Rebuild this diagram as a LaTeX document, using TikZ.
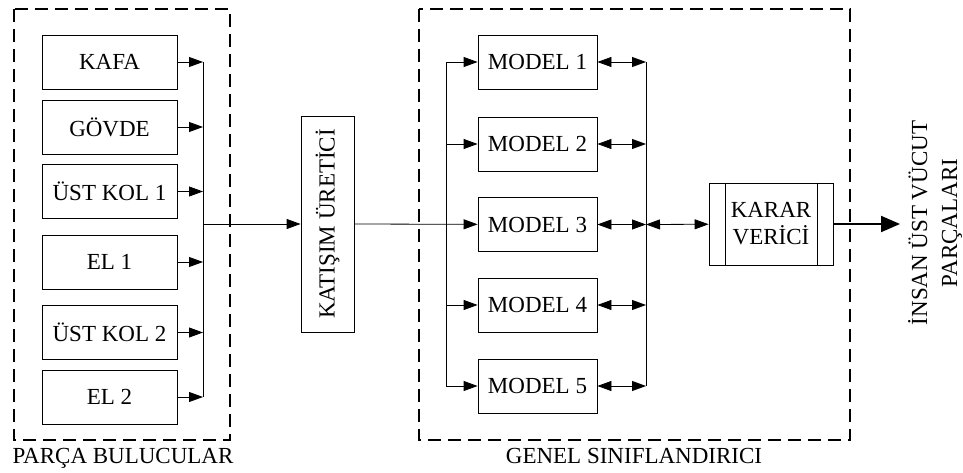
\documentclass[tikz,border=0pt]{standalone}
\usepackage{fontspec}
\setmainfont{Liberation Serif}
\usetikzlibrary{arrows.meta}

\tikzset{
  blok/.style={draw,line width=0.8pt,inner sep=0pt,minimum height=54pt,
    font=\fontsize{23}{27}\selectfont,align=center},
  grup/.style={line width=1.7pt,dash pattern=on 13pt off 7pt},
  ok/.style={line width=0.8pt,-{Triangle[length=14pt,width=10pt]}},
  ciftok/.style={line width=0.8pt,{Triangle[length=14pt,width=10pt]}-{Triangle[length=14pt,width=10pt]}},
  hat/.style={line width=0.8pt},
  etiket/.style={font=\fontsize{23}{27}\selectfont,anchor=base}
}

\begin{document}
\begin{tikzpicture}[x=1pt,y=-1pt]

      \useasboundingbox (0,0) rectangle (963,473);

      % gruplar
      \draw[grup] (14,9) rectangle (230,440);
      \draw[grup] (419,9) rectangle (850,440);
      \node[etiket] (parca) at (123,463) {PARÇA BULUCULAR};
      \node[etiket] (genel) at (634,463) {GENEL SINIFLANDIRICI};

      \begin{scope}[every node/.style={blok,minimum width=135pt}]
        \node (kafa)    at (109.5,62)  {KAFA};
        \node (govde)   at (109.5,127) {GÖVDE};
        \node (ustkol1) at (109.5,191.5) {ÜST KOL 1};
        \node (el1)     at (109.5,262) {EL 1};
        \node (ustkol2) at (109.5,332.5) {ÜST KOL 2};
        \node (el2)     at (109.5,397) {EL 2};
      \end{scope}

      \node[blok,rotate=90,minimum width=216pt,minimum height=53pt] (katisim) at (327.5,224) {KATIŞIM ÜRETİCİ};

      \begin{scope}[every node/.style={blok,minimum width=119pt}]
        \node (model1) at (537.5,62)  {MODEL 1};
        \node (model2) at (537.5,144) {MODEL 2};
        \node (model3) at (537.5,224.5) {MODEL 3};
        \node (model4) at (537.5,305) {MODEL 4};
        \node (model5) at (537.5,386) {MODEL 5};
      \end{scope}

      \node[blok,minimum width=124pt,minimum height=82pt] (karar) at (771,224) {KARAR\\VERİCİ};
      \draw[hat] ([xshift=17pt]karar.north west) -- ([xshift=17pt]karar.south west);
      \draw[hat] ([xshift=-16pt]karar.north east) -- ([xshift=-16pt]karar.south east);

      \node[font=\fontsize{23}{30}\selectfont,rotate=90,align=center] (cikis) at (935,223) {İNSAN ÜST VÜCUT\\PARÇALARI};

      % baglanti noktalari
      \coordinate (b1) at (203,62);
      \coordinate (b2) at (203,127);
      \coordinate (b3) at (203,191.5);
      \coordinate (b4) at (203,262);
      \coordinate (b5) at (203,332.5);
      \coordinate (b6) at (203,397);
      \coordinate (b0) at (203,224);
      \coordinate (s1) at (446,62);
      \coordinate (s2) at (446,144);
      \coordinate (s4) at (446,305);
      \coordinate (s5) at (446,386);
      \coordinate (r1) at (646,62);
      \coordinate (r2) at (646,144);
      \coordinate (r3) at (646,224.5);
      \coordinate (r4) at (646,305);
      \coordinate (r5) at (646,386);
      \coordinate (son) at (900,224);

      \draw[ok] (kafa) -- (b1);
      \draw[ok] (govde) -- (b2);
      \draw[ok] (ustkol1) -- (b3);
      \draw[ok] (el1) -- (b4);
      \draw[ok] (ustkol2) -- (b5);
      \draw[ok] (el2) -- (b6);
      \draw[hat] (b1) -- (b6);
      \draw[ok] (b0) -- (katisim.north);

      \draw[ok] (katisim.south) -- (model3);
      \draw[hat] (s1) -- (s5);
      \draw[ok] (s1) -- (model1);
      \draw[ok] (s2) -- (model2);
      \draw[ok] (s4) -- (model4);
      \draw[ok] (s5) -- (model5);

      \draw[ciftok] (model1) -- (r1);
      \draw[ciftok] (model2) -- (r2);
      \draw[ciftok] (model3) -- (r3);
      \draw[ciftok] (model4) -- (r4);
      \draw[ciftok] (model5) -- (r5);
      \draw[hat] (r1) -- (r5);
      \draw[ciftok] (r3) -- (karar);
      \draw[line width=2pt,-{Triangle[length=19pt,width=16pt]}] (karar) -- (son);

    \end{tikzpicture}
\end{document}
